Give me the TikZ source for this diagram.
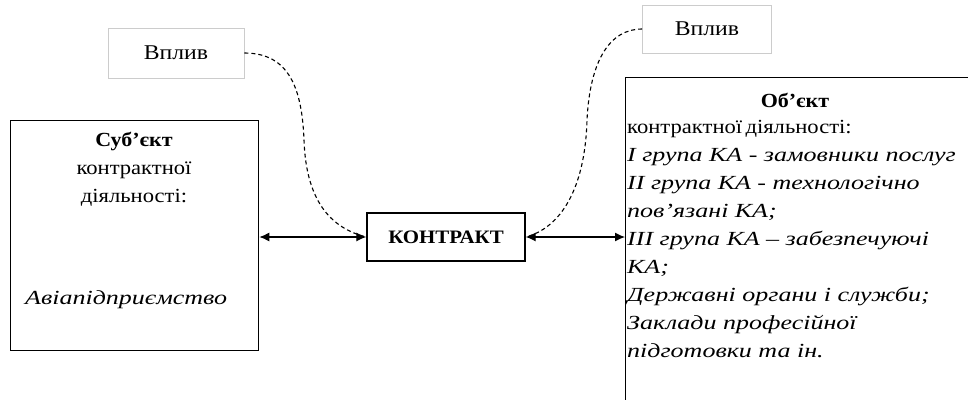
\documentclass[tikz,border=0pt]{standalone}
\usepackage{fontspec}
\setmainfont{Liberation Serif}[FakeStretch=1.13, WordSpace=0.6, ItalicFeatures={FakeStretch=1.3, WordSpace=1}, BoldFeatures={FakeStretch=1.1, WordSpace=1}]
\usetikzlibrary{arrows.meta}
\begin{document}
\begin{tikzpicture}[x=1pt,y=-1pt,
 box/.style={draw, line width=1.3pt, inner sep=0pt},
 infl/.style={draw=gray!40, line width=0.8pt, inner sep=0pt, font=\fontsize{21}{24}\selectfont},
 txt/.style={font=\fontsize{20}{28}\selectfont, inner sep=0pt},
 arr/.style={line width=1.2pt, {Latex[length=10pt,width=9pt]}-{Latex[length=10pt,width=9pt]}},
 infarr/.style={dashed, dash pattern=on 4pt off 3pt, line width=1.1pt}]
\clip (0,0) rectangle (968,399);
\fill[white] (0,0) rectangle (968,399);

% subject box
\node[box, minimum width=248pt, minimum height=230pt, anchor=north west] (subj) at (10,120) {};
\node[txt, align=center, anchor=north] (subjt) at (134,132) {\textbf{Суб’єкт}\\контрактної\\діяльності:};
\node[txt, anchor=west] (avia) at (25,300) {\textit{Авіапідприємство}};

% contract
\node[box, minimum width=158pt, minimum height=48pt, font=\fontsize{19}{22}\selectfont\bfseries] (contract) at (446,237) {КОНТРАКТ};

% object box
\node[box, minimum width=400pt, minimum height=360pt, anchor=north west] (obj) at (625,77) {};
\node[txt, font=\fontsize{20}{28}\selectfont\bfseries] (objt) at (795,100) {Об’єкт};
\node[txt, align=left, anchor=north west] (objl) at (627,120) {контрактної діяльності:\\
\textit{І група КА - замовники послуг}\\
\textit{ІІ група КА - технологічно}\\
\textit{пов’язані КА;}\\
\textit{ІІІ група КА – забезпечуючі}\\
\textit{КА;}\\
\textit{Державні органи і служби;}\\
\textit{Заклади професійної}\\
\textit{підготовки та ін.}};

% influence boxes
\node[infl, minimum width=136pt, minimum height=50pt] (infl1) at (176,53) {Вплив};
\node[infl, minimum width=129pt, minimum height=48pt] (infl2) at (707,29) {Вплив};

% arrows
\draw[arr] (contract.west -| subj.east) -- (contract.west);
\draw[arr] (contract.east) -- (contract.east -| obj.west);

% influence curves
\draw[infarr] (infl1.east) .. controls (290,53) and (302,90) .. (304,140) .. controls (306,200) and (330,228) .. (contract.west);
\draw[infarr] (infl2.west) .. controls (610,29) and (590,60) .. (587,120) .. controls (585,190) and (560,228) .. (contract.east);
\end{tikzpicture}
\end{document}
